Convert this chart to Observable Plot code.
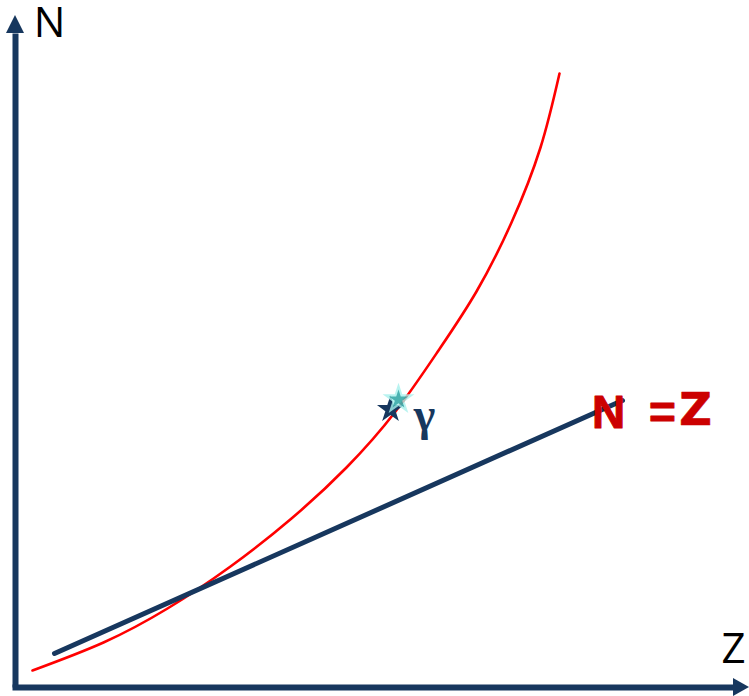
<!DOCTYPE html>
<html><head><meta charset="utf-8">
<script src="https://cdn.jsdelivr.net/npm/d3@7"></script>
<script src="https://cdn.jsdelivr.net/npm/@observablehq/plot@0.6"></script>
<style>html,body{margin:0;padding:0;background:#fff}svg{display:block;overflow:visible}</style>
</head><body><div id="chart"></div>
<script>
// Values are in chart units: Z measured right from the N axis, N measured up from the Z axis
const curveZ = [17, 88, 152, 215, 276, 331, 380, 423, 461, 496, 525, 544];
const curveN = [17, 45, 79, 121, 169, 220, 276, 337, 396, 465, 540, 614];
const lineZ = [39, 607];
const lineN = [34, 287];
const axisYZ = [0, 0];
const axisYN = [0, 654];
const axisXZ = [-3, 718];
const axisXN = [0, 0];
const headYN = [654, 672];
const headYZ1 = [-9, 0];
const headYZ2 = [9, 0];
const headXZ = [718, 734];
const headXN1 = [-9, 0];
const headXN2 = [9, 0];
const starZ = [375];
const starN = [278];
const sparkZ = [383];
const sparkN = [288];
const labels = ["N", "Z"];
const labelZ = [34, 718];
const labelN = [664, 38];
const gammaLabel = ["\u03b3"];
const gammaZ = [409];
const gammaN = [272];
const eqLabels = ["N", "="];
const eqZ = [593, 647];
const eqN = [274, 274];
const eqSize = [46, 46];
const zLabel = ["Z"];
const zZ = [680];
const zN = [277];

const idx = a => a.map((_, i) => i);
const navy = "#17375e", red = "#ff0000", dred = "#cc0000";

const plot = Plot.plot({
  width: 749, height: 696,
  margin: 0,
  style: {background: "#fff"},
  x: {axis: null, domain: [-15, 734], range: [0, 749]},
  y: {axis: null, domain: [-9, 687], range: [696, 0]},
  marks: [
    Plot.line(idx(curveZ), {x: i => curveZ[i], y: i => curveN[i], stroke: red, strokeWidth: 2.6, curve: "natural"}),
    Plot.line(idx(lineZ), {x: i => lineZ[i], y: i => lineN[i], stroke: navy, strokeWidth: 5, strokeLinecap: "round"}),
    Plot.line(idx(axisYZ), {x: i => axisYZ[i], y: i => axisYN[i], stroke: navy, strokeWidth: 6, strokeLinecap: "butt"}),
    Plot.line(idx(axisXZ), {x: i => axisXZ[i], y: i => axisXN[i], stroke: navy, strokeWidth: 6, strokeLinecap: "butt"}),
    Plot.areaX(idx(headYN), {y: i => headYN[i], x1: i => headYZ1[i], x2: i => headYZ2[i], fill: navy}),
    Plot.areaY(idx(headXZ), {x: i => headXZ[i], y1: i => headXN1[i], y2: i => headXN2[i], fill: navy}),
    Plot.dot(starZ, {x: d => d, y: (d, i) => starN[i], symbol: "star", r: 8.5, fill: navy}),
    Plot.dot(sparkZ, {x: d => d, y: (d, i) => sparkN[i], symbol: "star", r: 10, fill: "#a8f0ec", fillOpacity: 0.8}),
    Plot.dot(sparkZ, {x: d => d, y: (d, i) => sparkN[i], symbol: "star", r: 6, fill: "#0f8f8f", fillOpacity: 0.65}),
    Plot.text(idx(labels), {x: i => labelZ[i], y: i => labelN[i], text: i => labels[i], fontFamily: "Open Sans", fontSize: 42, fill: "#000", textAnchor: "middle", lineAnchor: "middle"}),
    Plot.text(idx(gammaLabel), {x: i => gammaZ[i], y: i => gammaN[i], text: i => gammaLabel[i], fontFamily: "Liberation Serif", fontWeight: "bold", fontSize: 46, fill: navy, textAnchor: "middle", lineAnchor: "middle"}),
    Plot.text(idx(eqLabels), {x: i => eqZ[i], y: i => eqN[i], text: i => eqLabels[i], fontFamily: "Liberation Sans", fontWeight: "bold", fontSize: i => eqSize[i], fill: dred, stroke: dred, strokeWidth: 1, textAnchor: "middle", lineAnchor: "middle"}),
    Plot.text(idx(zLabel), {x: i => zZ[i], y: i => zN[i], text: i => zLabel[i], fontFamily: "DejaVu Sans", fontWeight: "bold", fontSize: 45, fill: dred, stroke: dred, strokeWidth: 0.6, textAnchor: "middle", lineAnchor: "middle"})
  ]
});
document.getElementById("chart").append(plot);
</script></body></html>
